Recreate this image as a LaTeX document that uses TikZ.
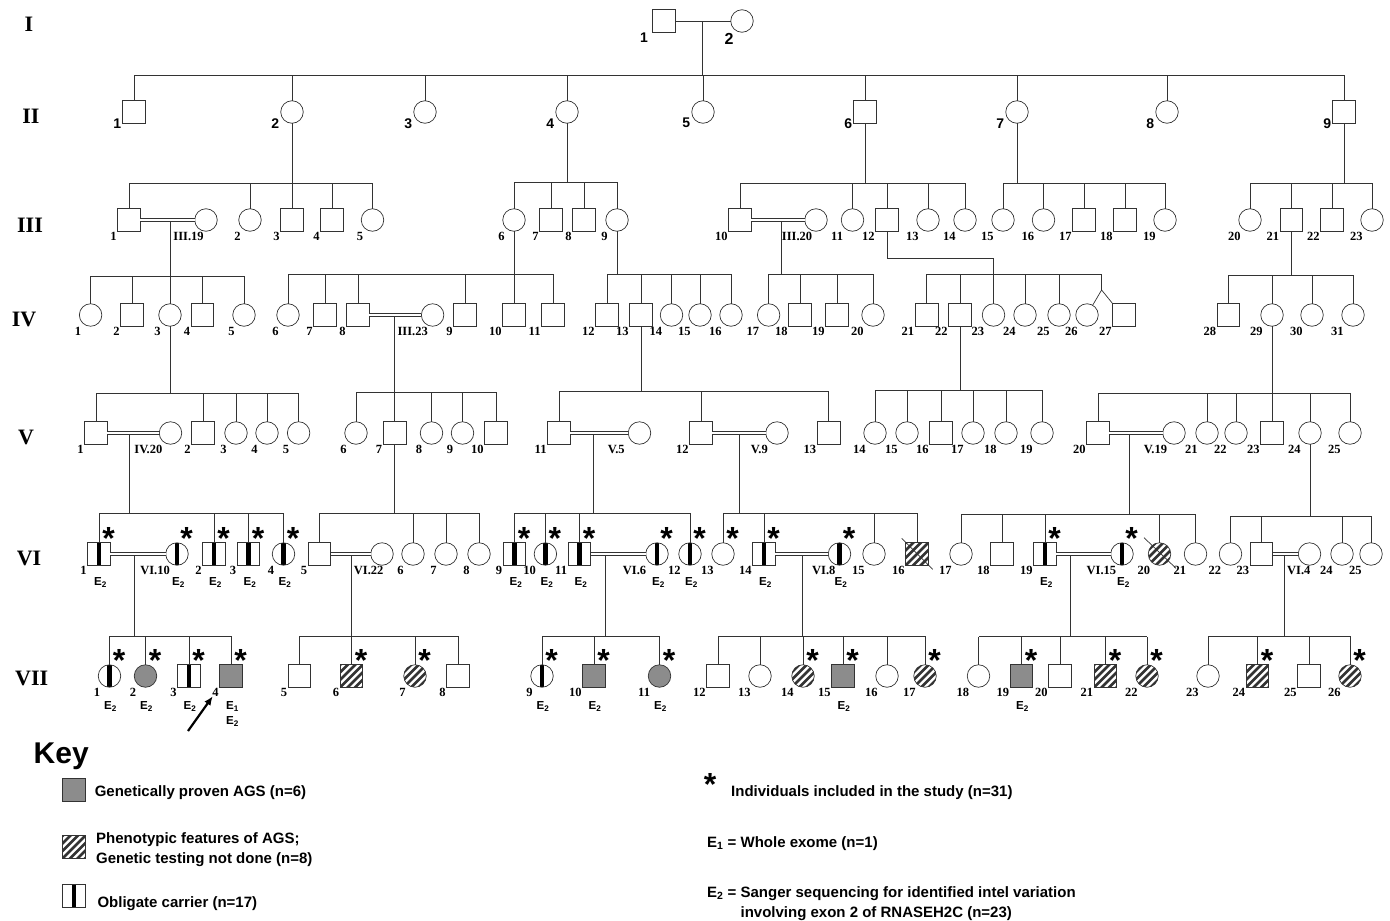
\documentclass[tikz,border=0pt]{standalone}
\usepackage{fontspec}
\setmainfont{Liberation Serif}
\setsansfont{Liberation Sans}
\usetikzlibrary{arrows.meta,positioning}
\definecolor{agsgray}{HTML}{8C8C8C}
\newcommand{\numfont}{\rmfamily\bfseries\fontsize{12.5}{14}\selectfont}
\newcommand{\genfont}{\rmfamily\bfseries\fontsize{22}{24}\selectfont}
\newcommand{\topfont}{\sffamily\bfseries\fontsize{14}{16}\selectfont}
\newcommand{\efont}{\sffamily\bfseries\fontsize{11.6}{15}\selectfont}
\newcommand{\keyfont}{\sffamily\bfseries\fontsize{15}{19.6}\selectfont}
% parent point, line y, first child, last child, all children
\newcommand{\sibship}[5]{%
  \draw[kin] (#1) -- (#1 |- 0,#2);
  \draw[kin] (#3.north |- 0,#2) -- (#4.north |- 0,#2);
  \foreach \c in {#5} \draw[kin] (\c.north) -- (\c.north |- 0,#2);
}

\begin{document}
\begin{tikzpicture}[x=1pt,y=-1pt,
  kin/.style={line width=0.7pt,black!80},
  mate/.style={kin,double,double distance=2pt,line width=0.6pt},
  indiv/.style={draw=black!80,line width=0.7pt,minimum size=22.5pt,inner sep=0pt,outer sep=0pt},
  male/.style={indiv,rectangle},
  female/.style={indiv,circle},
  carrier/.style={path picture={\fill[black] ([xshift=-2.2pt]path picture bounding box.north) rectangle ([xshift=2.2pt]path picture bounding box.south);}},
  affected/.style={fill=agsgray},
  hatch/.style={path picture={\foreach \k in {-30,-22.5,...,30}{\draw[line width=2.6pt] ([xshift=\k pt]path picture bounding box.center) ++(-17pt,-17pt) -- ++(34pt,34pt);}}},
  malec/.style={male,carrier}, femalec/.style={female,carrier},
  malea/.style={male,affected}, femalea/.style={female,affected},
  maleh/.style={male,hatch}, femaleh/.style={female,hatch},
  num/.style={font=\numfont,inner sep=1pt,anchor=north east},
  lbl male/.style={}, lbl malec/.style={}, lbl malea/.style={}, lbl maleh/.style={},
  lbl female/.style={xshift=3pt}, lbl femalec/.style={xshift=3pt},
  lbl femalea/.style={xshift=3pt}, lbl femaleh/.style={xshift=3pt},
  spouse/.style={font=\numfont,inner sep=1pt,anchor=north west},
  gen/.style={font=\genfont,inner sep=0pt},
  toplbl/.style={font=\topfont,inner sep=1.5pt},
  elbl/.style={font=\efont,anchor=north,inner sep=0pt},
  incl/.style={font=\sffamily\bfseries\fontsize{32}{32}\selectfont,anchor=base,inner sep=0pt},
  keytxt/.style={font=\keyfont,anchor=base west,inner sep=0pt}]
  \useasboundingbox (0,0) rectangle (1390,921);

  % generation numbers
  \node[gen] (gI) at (29,24) {I};
  \node[gen] (gII) at (31,116) {II};
  \node[gen] (gIII) at (30,225) {III};
  \node[gen] (gIV) at (24,319) {IV};
  \node[gen] (gV) at (26,437) {V};
  \node[gen] (gVI) at (29,558) {VI};
  \node[gen] (gVII) at (31.7,678) {VII};

  % I
  \node[male] (i1) at (664,21) {};
  \node[female] (i2) at (742,21) {};
  \node[toplbl] (i1-l) at (644,38) {1};
  \node[toplbl,font=\sffamily\bfseries\fontsize{16}{18}\selectfont] (i2-l) at (729,39) {2};
  \draw[kin] (i1) -- (i2);
  \coordinate (m0) at (702,21);

  % II
  \foreach \n/\x/\t/\l in {ii1/134/male/1,ii2/292/female/2,ii3/425/female/3,ii4/567/female/4,
      ii5/703/female/5,ii6/865/male/6,ii7/1017/female/7,ii8/1167/female/8,ii9/1344/male/9}{
    \node[\t] (\n) at (\x,112) {};
    \node[toplbl,anchor=east] (\n-l) at (\n.south -| \n.west) {\l};
  }

  % III
  \foreach \n/\x/\t/\l in {iii1/129/male/1,iii2/250/female/2,iii3/292/male/3,iii4/332/male/4,iii5/372.5/female/5,
      iii6/514/female/6,iii7/551/male/7,iii8/584/male/8,iii9/617/female/9,
      iii10/740/male/10,iii11/852.5/female/11,iii12/887/male/12,iii13/928/female/13,iii14/965/female/14,
      iii15/1003/female/15,iii16/1043.5/female/16,iii17/1084/male/17,iii18/1125/male/18,iii19/1165/female/19,
      iii20/1250/female/20,iii21/1291.5/male/21,iii22/1332/male/22,iii23/1372/female/23}{
    \node[\t] (\n) at (\x,220) {};
    \node[num,lbl \t] (\n-l) at (\n.south -| \n.west) {\l};
  }
  \foreach \n/\x/\t/\l/\d in {iii19b/206/female/III.19/-22.5,iii20b/816/female/III.20/-24}{
    \node[\t] (\n) at (\x,220) {};
    \node[spouse] (\n-l) at ([shift={(\d-11.25,11.25)}]\n.center) {\l};
  }

  % IV
  \foreach \n/\x/\t/\l in {iv1/90.6/female/1,iv2/132/male/2,iv3/170/female/3,iv4/202.5/male/4,iv5/244/female/5,
      iv6/288/female/6,iv7/325/male/7,iv8/358/male/8,iv9/465/male/9,iv10/514/male/10,iv11/553/male/11,
      iv12/607/male/12,iv13/641/male/13,iv14/671.5/female/14,iv15/700/female/15,iv16/731/female/16,
      iv17/768.6/female/17,iv18/800/male/18,iv19/837/male/19,iv20/873/female/20,
      iv21/926.6/male/21,iv22/960/male/22,iv23/993.5/female/23,iv24/1025/female/24,iv25/1059/female/25,
      iv26/1087/female/26,iv27/1124/male/27,
      iv28/1228.5/male/28,iv29/1272/female/29,iv30/1312/female/30,iv31/1353/female/31}{
    \node[\t] (\n) at (\x,315) {};
    \node[num,lbl \t] (\n-l) at (\n.south -| \n.west) {\l};
  }
  \foreach \n/\x/\t/\l/\d in {iii23b/432.6/female/III.23/-25}{
    \node[\t] (\n) at (\x,315) {};
    \node[spouse] (\n-l) at ([shift={(\d-11.25,11.25)}]\n.center) {\l};
  }

  % V
  \foreach \n/\x/\t/\l in {v1/96/male/1,v2/203/male/2,v3/236/female/3,v4/267/female/4,v5/298.6/female/5,
      v6/356/female/6,v7/394.6/male/7,v8/431.5/female/8,v9/462.5/female/9,v10/496/male/10,
      v11/559/male/11,v12/701/male/12,v13/828.6/male/13,
      v14/875/female/14,v15/907/female/15,v16/941/male/16,v17/973/female/17,v18/1006/female/18,v19/1042/female/19,
      v20/1098/male/20,v21/1207/female/21,v22/1236/female/22,v23/1272/male/23,v24/1310/female/24,v25/1350/female/25}{
    \node[\t] (\n) at (\x,433) {};
    \node[num,lbl \t] (\n-l) at (\n.south -| \n.west) {\l};
  }
  \foreach \n/\x/\t/\l/\d in {iv20b/170.5/female/IV.20/-26,v5b/639.5/female/V.5/-21.6,
      v9b/777/female/V.9/-16,v19b/1174/female/V.19/-20}{
    \node[\t] (\n) at (\x,433) {};
    \node[spouse] (\n-l) at ([shift={(\d-11.25,11.25)}]\n.center) {\l};
  }

  % VI
  \foreach \n/\x/\t/\l in {vi1/99/malec/1,vi2/214/malec/2,vi3/248.5/malec/3,vi4/283.5/femalec/4,
      vi5/319.5/male/5,vi6/413/female/6,vi7/446/female/7,vi8/479/female/8,
      vi9/514.5/malec/9,vi10/545.4/femalec/10,vi11/579.5/malec/11,vi12/690/femalec/12,
      vi13/723/female/13,vi14/764/malec/14,vi15/874/female/15,vi16/917/maleh/16,
      vi17/961/female/17,vi18/1002/male/18,vi19/1045/malec/19,vi20/1159.5/femaleh/20,vi21/1195.5/female/21,
      vi22/1230.5/female/22,vi23/1261.5/male/23,vi24/1342/female/24,vi25/1371/female/25}{
    \node[\t] (\n) at (\x,554) {};
    \node[num,lbl \t] (\n-l) at (\n.south -| \n.west) {\l};
  }
  \foreach \n/\x/\t/\l/\d in {vi10b/177/femalec/VI.10/-26.7,vi22b/382/female/VI.22/-18,
      vi6b/657/femalec/VI.6/-24,vi8b/839.5/femalec/VI.8/-17.3,
      vi15b/1122/femalec/VI.15/-25.3,vi4b/1309.5/female/VI.4/-12.3}{
    \node[\t] (\n) at (\x,554) {};
    \node[spouse] (\n-l) at ([shift={(\d-11.25,11.25)}]\n.center) {\l};
  }

  % VII
  \foreach \n/\x/\t/\l in {vii1/109.5/femalec/1,vii2/145.5/femalea/2,vii3/189/malec/3,vii4/231/malea/4,
      vii5/299.5/male/5,vii6/351.5/maleh/6,vii7/415/femaleh/7,vii8/458/male/8,
      vii9/542/femalec/9,vii10/594/malea/10,vii11/659.5/femalea/11,
      vii12/718/male/12,vii13/760/female/13,vii14/803/femaleh/14,vii15/843/malea/15,vii16/887/female/16,vii17/925/femaleh/17,
      vii18/978.5/female/18,vii19/1021.5/malea/19,vii20/1060/male/20,vii21/1105.5/maleh/21,vii22/1147/femaleh/22,
      vii23/1208/female/23,vii24/1257.5/maleh/24,vii25/1309/male/25,vii26/1350/femaleh/26}{
    \node[\t] (\n) at (\x,676) {};
    \node[num,lbl \t] (\n-l) at (\n.south -| \n.west) {\l};
  }

  % consanguineous unions
  \draw[mate] (iii1) -- (iii19b);
  \draw[mate] (iii10) -- (iii20b);
  \draw[mate] (iv8) -- (iii23b);
  \draw[mate] (v1) -- (iv20b);
  \draw[mate] (v11) -- (v5b);
  \draw[mate] (v12) -- (v9b);
  \draw[mate] (v20) -- (v19b);
  \draw[mate] (vi1) -- (vi10b);
  \draw[mate] (vi5) -- (vi22b);
  \draw[mate] (vi11) -- (vi6b);
  \draw[mate] (vi14) -- (vi8b);
  \draw[mate] (vi19) -- (vi15b);
  \draw[mate] (vi23) -- (vi4b);
  \coordinate (m1) at (170,221.6);
  \coordinate (m2) at (781.5,221.6);
  \coordinate (m3) at (394.6,316.6);
  \coordinate (m4) at (129.5,434.6);
  \coordinate (m5) at (593,434.6);
  \coordinate (m6) at (739,434.6);
  \coordinate (m7) at (1129.7,434.6);
  \coordinate (m8) at (134,555.6);
  \coordinate (m9) at (351.7,555.6);
  \coordinate (m10) at (605.7,555.6);
  \coordinate (m11) at (802.7,555.6);
  \coordinate (m12) at (1070.7,555.6);
  \coordinate (m13) at (1284,555.6);

  % sibships
  \sibship{m0}{75}{ii1}{ii9}{ii1,ii2,ii3,ii4,ii5,ii6,ii7,ii8,ii9}
  \sibship{ii2.south}{183}{iii1}{iii5}{iii1,iii2,iii3,iii4,iii5}
  \sibship{ii4.south}{182}{iii6}{iii9}{iii6,iii7,iii8,iii9}
  \sibship{ii6.south}{183}{iii10}{iii14}{iii10,iii11,iii12,iii13,iii14}
  \sibship{ii7.south}{183}{iii15}{iii19}{iii15,iii16,iii17,iii18,iii19}
  \sibship{ii9.south}{183}{iii20}{iii23}{iii20,iii21,iii22,iii23}
  \sibship{m1}{276}{iv1}{iv5}{iv1,iv2,iv3,iv4,iv5}
  \sibship{iii6.south}{274}{iv6}{iv11}{iv6,iv7,iv8,iv9,iv10,iv11}
  \sibship{iii9.south}{274}{iv12}{iv16}{iv12,iv13,iv14,iv15,iv16}
  \sibship{m2}{274}{iv17}{iv20}{iv17,iv18,iv19,iv20}
  \sibship{iii21.south}{275}{iv28}{iv31}{iv28,iv29,iv30,iv31}
  \draw[kin] (iii12.south) |- (iv23.north |- 0,258) -- (iv23.north);
  \coordinate (tw) at (1101.6,290);
  \draw[kin] (iv21.north |- 0,274) -- (tw |- 0,274) -- (tw);
  \foreach \c in {iv21,iv22,iv24,iv25} \draw[kin] (\c.north) -- (\c.north |- 0,274);
  \draw[kin] (iv26.60) -- (tw) -- (iv27.north west);
  \sibship{iv3.south}{393}{v1}{v5}{v1,v2,v3,v4,v5}
  \sibship{m3}{392}{v6}{v10}{v6,v7,v8,v9,v10}
  \sibship{iv13.south}{391}{v11}{v13}{v11,v12,v13}
  \sibship{iv22.south}{390}{v14}{v19}{v14,v15,v16,v17,v18,v19}
  \sibship{iv29.south}{393}{v20}{v25}{v20,v21,v22,v23,v24,v25}
  \sibship{m4}{513.5}{vi1}{vi4}{vi1,vi2,vi3,vi4}
  \sibship{v7.south}{513}{vi5}{vi8}{vi5,vi6,vi7,vi8}
  \sibship{m5}{513}{vi9}{vi12}{vi9,vi10,vi11,vi12}
  \sibship{m6}{513}{vi13}{vi16}{vi13,vi14,vi15,vi16}
  \sibship{m7}{514}{vi17}{vi21}{vi17,vi18,vi19,vi20,vi21}
  \sibship{v24.south}{516}{vi22}{vi25}{vi22,vi23,vi24,vi25}
  \sibship{m8}{636}{vii1}{vii4}{vii1,vii2,vii3,vii4}
  \sibship{m9}{636}{vii5}{vii8}{vii5,vii6,vii7,vii8}
  \sibship{m10}{636}{vii9}{vii11}{vii9,vii10,vii11}
  \sibship{m11}{636}{vii12}{vii17}{vii12,vii13,vii14,vii15,vii16,vii17}
  \sibship{m12}{636.5}{vii18}{vii22}{vii18,vii19,vii20,vii21,vii22}
  \sibship{m13}{636}{vii23}{vii26}{vii23,vii24,vii25,vii26}

  % deceased
  \draw[kin] ([shift={(-15.3,-15.7)}]vi16.center) -- ([shift={(15.7,15.3)}]vi16.center);
  \draw[kin] ([shift={(-15.5,-16.3)}]vi20.center) -- ([shift={(16.5,14.3)}]vi20.center);

  % included in the study, testing
  \foreach \n in {vi1,vi10b,vi2,vi3,vi4,vi9,vi10,vi11,vi6b,vi12,vi13,vi14,vi8b,vi19,vi15b,
      vii1,vii2,vii3,vii4,vii6,vii7,vii9,vii10,vii11,vii14,vii15,vii17,vii19,vii21,vii22,vii24,vii26}
    \node[incl] (\n-s) at ([shift={(9.5,-4.5)}]\n.center) {*};
  \foreach \n in {vi1,vi10b,vi2,vi3,vi4,vi9,vi10,vi11,vi6b,vi12,vi14,vi8b,vi19,vi15b}
    \node[elbl] (\n-e) at ([shift={(1.5,11.8)}]\n.south) {E\textsubscript{2}};
  \foreach \n in {vii1,vii2,vii3,vii9,vii10,vii11,vii15,vii19}
    \node[elbl] (\n-e) at ([shift={(1,13.8)}]\n.south) {E\textsubscript{2}};
  \node[elbl,align=center] (vii4-e) at ([shift={(1.5,13.8)}]vii4.south) {E\textsubscript{1}\\E\textsubscript{2}};

  % proband
  \coordinate (pb) at (188,731);
  \draw[-{Latex[length=9pt,width=7.5pt]},line width=2.2pt] (pb) -- ([shift={(-7,9)}]vii4.south west);

  % key
  \node[font=\sffamily\bfseries\fontsize{30}{32}\selectfont,anchor=base west,inner sep=0pt] (keyttl) at (33.5,763.3) {Key};
  \node[malea,minimum size=23pt] (ks1) at (74,789.5) {};
  \node[maleh,minimum size=23pt] (ks2) at (74,847) {};
  \node[malec,minimum size=23pt] (ks3) at (74,895.5) {};
  \node[keytxt] (kt1) at (94.6,796.4) {Genetically proven AGS (n=6)};
  \node[keytxt] (kt2) at (96,843.4) {Phenotypic features of AGS;};
  \node[keytxt] (kt3) at (96,863) {Genetic testing not done (n=8)};
  \node[keytxt] (kt4) at (97.3,907.1) {Obligate carrier (n=17)};
  \node[incl] (kst) at (710,795) {*};
  \node[keytxt] (kt5) at (731,796.4) {Individuals included in the study (n=31)};
  \node[keytxt] (kt6) at (707,847.1) {E\textsubscript{1} = Whole exome (n=1)};
  \node[keytxt] (kt7) at (707,897.4) {E\textsubscript{2} = Sanger sequencing for identified intel variation};
  \node[keytxt] (kt8) at (740.4,917) {involving exon 2 of RNASEH2C (n=23)};
\end{tikzpicture}
\end{document}
